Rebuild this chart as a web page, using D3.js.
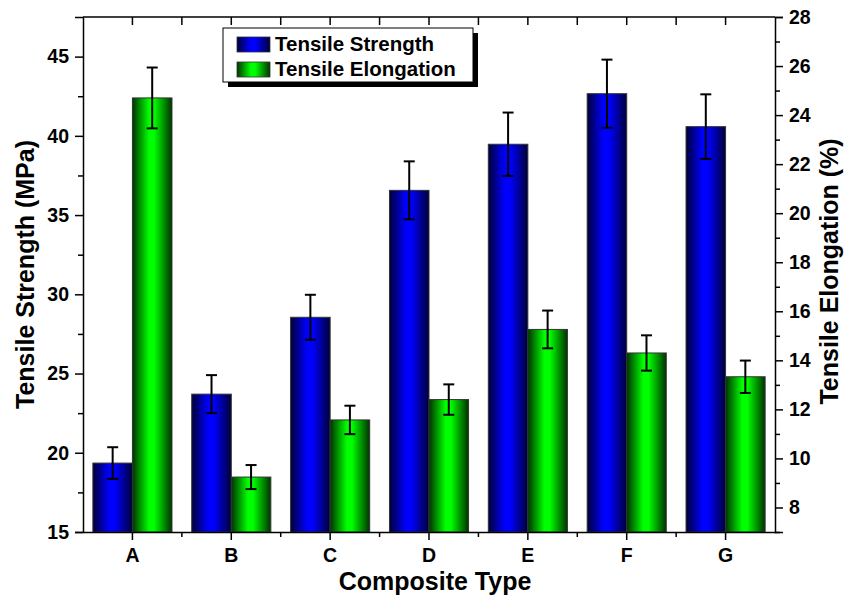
<!DOCTYPE html>
<html>
<head>
<meta charset="utf-8">
<script src="https://cdn.jsdelivr.net/npm/d3@7"></script>
<style>
  html, body { margin: 0; padding: 0; background: #fff; }
  svg { display: block; font-family: "Liberation Sans", Arial, sans-serif; font-weight: bold; }
</style>
</head>
<body>
<svg id="chart" width="854" height="598"></svg>
<script>
// ---- data ----
const categories = ["A", "B", "C", "D", "E", "F", "G"];
const strength = [19.35, 23.7, 28.55, 36.56, 39.47, 42.66, 40.58];
const strengthErr = [1.0, 1.2, 1.42, 1.83, 2.0, 2.15, 2.04];
const elongation = [24.7, 9.24, 11.57, 12.4, 15.26, 14.3, 13.33];
const elongationErr = [1.24, 0.49, 0.58, 0.62, 0.77, 0.72, 0.66];
const leftTicks = [15, 20, 25, 30, 35, 40, 45];
const leftMinor = [17.5, 22.5, 27.5, 32.5, 37.5, 42.5];
const rightTicks = [8, 10, 12, 14, 16, 18, 20, 22, 24, 26, 28];
const rightMinor = [7, 9, 11, 13, 15, 17, 19, 21, 23, 25, 27];
const seriesNames = ["Tensile Strength", "Tensile Elongation"];

const svg = d3.select("#chart");
const L = 83, R = 775, T = 17, B = 532;

const x = d3.scaleBand().domain(categories).range([L, R]).padding(0);
const yL = d3.scaleLinear().domain([15, 47.5]).range([B, T]);
const yR = d3.scaleLinear().domain([7, 28]).range([B, T]);

// gradients
const defs = svg.append("defs");
function grad(id, dark, bright) {
  const g = defs.append("linearGradient").attr("id", id)
    .attr("x1", "0").attr("x2", "1").attr("y1", "0").attr("y2", "0");
  g.append("stop").attr("offset", "0%").attr("stop-color", dark);
  g.append("stop").attr("offset", "42%").attr("stop-color", bright);
  g.append("stop").attr("offset", "55%").attr("stop-color", bright);
  g.append("stop").attr("offset", "100%").attr("stop-color", dark);
}
grad("gBlue", "#000038", "#0000ff");
grad("gGreen", "#003300", "#00ff00");

const bw = x.bandwidth() * 0.4;
const cx = d => x(d) + x.bandwidth() / 2;

// bars
svg.append("g").selectAll("rect").data(categories).join("rect")
  .attr("x", d => cx(d) - bw).attr("width", bw)
  .attr("y", (d, i) => yL(strength[i])).attr("height", (d, i) => B - yL(strength[i]))
  .attr("fill", "url(#gBlue)").attr("stroke", "#333").attr("stroke-width", 1);
svg.append("g").selectAll("rect").data(categories).join("rect")
  .attr("x", d => cx(d)).attr("width", bw)
  .attr("y", (d, i) => yR(elongation[i])).attr("height", (d, i) => B - yR(elongation[i]))
  .attr("fill", "url(#gGreen)").attr("stroke", "#333").attr("stroke-width", 1);

// error bars
function errBars(vals, errs, scale, offset) {
  const g = svg.append("g").attr("stroke", "#000").attr("stroke-width", 2);
  categories.forEach((c, i) => {
    const xc = cx(c) + offset;
    const y1 = scale(vals[i] + errs[i]), y2 = scale(vals[i] - errs[i]);
    g.append("line").attr("x1", xc).attr("x2", xc).attr("y1", y1).attr("y2", y2);
    g.append("line").attr("x1", xc - 5.5).attr("x2", xc + 5.5).attr("y1", y1).attr("y2", y1);
    g.append("line").attr("x1", xc - 5.5).attr("x2", xc + 5.5).attr("y1", y2).attr("y2", y2);
  });
}
errBars(strength, strengthErr, yL, -bw / 2);
errBars(elongation, elongationErr, yR, bw / 2);

// axes
const fs = 19.5;
svg.append("g").attr("transform", `translate(${L},0)`)
  .call(d3.axisLeft(yL).tickValues(leftTicks).tickSize(8).tickPadding(6).tickFormat(d3.format("d")));
svg.append("g").attr("transform", `translate(${L},0)`)
  .call(d3.axisLeft(yL).tickValues(leftMinor).tickSize(5).tickFormat(""))
  .call(g => g.select(".domain").remove());
svg.append("g").attr("transform", `translate(${R},0)`)
  .call(d3.axisRight(yR).tickValues(rightTicks).tickSize(8).tickPadding(6).tickFormat(d3.format("d")));
svg.append("g").attr("transform", `translate(${R},0)`)
  .call(d3.axisRight(yR).tickValues(rightMinor).tickSize(5).tickFormat(""))
  .call(g => g.select(".domain").remove());

svg.append("g").attr("transform", `translate(0,${B})`)
  .call(d3.axisBottom(x).tickSize(8).tickPadding(8).tickSizeOuter(0));
// minor ticks at band boundaries
const bounds = categories.slice(1).map(c => x(c));
const minorG = svg.append("g").attr("stroke", "#000").attr("stroke-width", 1.5);
bounds.forEach(b => {
  minorG.append("line").attr("x1", b).attr("x2", b).attr("y1", B).attr("y2", B + 5);
});
// top axis (ticks inward)
svg.append("line").attr("x1", L).attr("x2", R).attr("y1", T).attr("y2", T).attr("stroke", "#000").attr("stroke-width", 1.5);
categories.forEach(c => {
  svg.append("line").attr("x1", cx(c)).attr("x2", cx(c)).attr("y1", T).attr("y2", T + 8).attr("stroke", "#000").attr("stroke-width", 1.5);
});
bounds.forEach(b => {
  svg.append("line").attr("x1", b).attr("x2", b).attr("y1", T).attr("y2", T + 8).attr("stroke", "#000").attr("stroke-width", 1.5);
});

svg.selectAll(".domain").attr("stroke-width", 1.5);
svg.selectAll(".tick line").attr("stroke-width", 1.5);
svg.selectAll(".tick text").attr("font-size", fs).attr("font-weight", "bold")
  .attr("font-family", "Liberation Sans, Arial, sans-serif").attr("fill", "#000");

// axis titles
const tfs = 25;
svg.append("text").attr("transform", `translate(34,${(T + B) / 2}) rotate(-90)`)
  .attr("text-anchor", "middle").attr("font-size", tfs).text("Tensile Strength (MPa)");
svg.append("text").attr("transform", `translate(838,${(T + B) / 2 - 3}) rotate(-90)`)
  .attr("text-anchor", "middle").attr("font-size", tfs).text("Tensile Elongation (%)");
svg.append("text").attr("x", 435).attr("y", 590)
  .attr("text-anchor", "middle").attr("font-size", tfs).text("Composite Type");

// legend
const lg = svg.append("g").attr("transform", "translate(223,28)");
lg.append("rect").attr("x", 5).attr("y", 5).attr("width", 250).attr("height", 54).attr("fill", "#000");
lg.append("rect").attr("x", 0).attr("y", 0).attr("width", 250).attr("height", 54).attr("fill", "#fff").attr("stroke", "#000").attr("stroke-width", 1);
const fills = ["url(#gBlue)", "url(#gGreen)"];
seriesNames.forEach((n, i) => {
  lg.append("rect").attr("x", 14).attr("y", 9 + i * 25).attr("width", 33).attr("height", 15)
    .attr("fill", fills[i]).attr("stroke", "#333").attr("stroke-width", 0.8);
  lg.append("text").attr("x", 52).attr("y", 23 + i * 25).attr("font-size", 20.5).text(n);
});
</script>
</body>
</html>
